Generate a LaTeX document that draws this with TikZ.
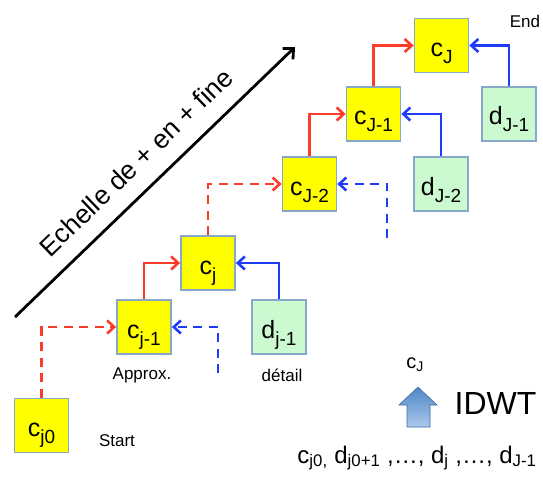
\documentclass[tikz,border=0pt]{standalone}
\usepackage{fontspec}
\setmainfont{Liberation Sans}
\usetikzlibrary{arrows.meta}
\definecolor{boxline}{RGB}{135,168,200}
\definecolor{cyell}{RGB}{255,255,0}
\definecolor{dgreen}{RGB}{204,250,208}
\definecolor{ared}{RGB}{250,60,40}
\definecolor{ablue}{RGB}{30,60,250}
\definecolor{idwtdark}{RGB}{80,135,200}
\definecolor{idwtlight}{RGB}{170,200,235}
\newcommand{\sbs}[1]{\raisebox{-0.28em}{\fontsize{19}{19}\selectfont #1}}
\tikzset{
  cbox/.style={draw=boxline, line width=1.8pt, fill=cyell, minimum width=54pt,
    minimum height=54pt, inner sep=0pt, text height=29pt, text depth=7pt,
    font=\fontsize{25}{27}\selectfont},
  dbox/.style={cbox, fill=dgreen},
  barb/.style={-{Straight Barb[length=7pt,width=13pt]}},
  uparr/.style={barb, ared, line width=2.6pt},
  sidearr/.style={barb, ablue, line width=2.6pt},
  jump/.style={dash pattern=on 9pt off 6.5pt},
  small/.style={font=\fontsize{17}{19}\selectfont}
}
\begin{document}
\begin{tikzpicture}[x=1pt,y=-1pt]
\useasboundingbox (0,0) rectangle (543,481);
% boxes
\node[cbox] (cj0) at (41.5,425.5) {c\sbs{j0}};
\node[cbox] (cjm1) at (144,327) {c\sbs{j-1}};
\node[cbox] (cj) at (208,263) {c\sbs{j}};
\node[dbox] (djm1) at (279,327) {d\sbs{j-1}};
\node[cbox] (cJm2) at (309.5,184) {c\sbs{J-2}};
\node[dbox] (dJm2) at (441,184) {d\sbs{J-2}};
\node[cbox] (cJm1) at (373.5,114) {c\sbs{J-1}};
\node[dbox] (dJm1) at (509,114) {d\sbs{J-1}};
\node[cbox] (cJ) at (441.5,45.5) {c\sbs{J}};
% free ends of the dashed blue lines
\coordinate (dlow) at (218,373);
\coordinate (dhigh) at (387,238);
% connectors
\draw[uparr] (cjm1.north) |- (cj.west);
\draw[uparr] (cJm2.north) |- (cJm1.west);
\draw[uparr] (cJm1.north) |- (cJ.west);
\draw[uparr,jump] (cj0.north) |- (cjm1.west);
\draw[uparr,jump] (cj.north) |- (cJm2.west);
\draw[sidearr] (djm1.north) |- (cj.east);
\draw[sidearr] (dJm2.north) |- (cJm1.east);
\draw[sidearr] (dJm1.north) |- (cJ.east);
\draw[sidearr,jump] (dlow) |- (cjm1.east);
\draw[sidearr,jump] (dhigh) |- (cJm2.east);
% labels
\node[small] (start) at (117,441) {Start};
\node[small] (approx) at (142,375) {Approx.};
\node[small] (detail) at (282,375) {détail};
\node[small] (end) at (525,21) {End};
% scale arrow
\coordinate (sa) at (15,317);
\coordinate (sb) at (295,47);
\draw[-{Straight Barb[length=8pt,width=15pt]}, line width=2.8pt] (sa) -- (sb)
  node[midway, sloped, above=13pt, font=\fontsize{26.5}{29}\selectfont] (scale) {Echelle de + en + fine};
% IDWT
\node[font=\fontsize{20}{22}\selectfont] (cout) at (415,365) {c\textsubscript{J}};
\shade[top color=idwtdark, bottom color=idwtlight, draw=idwtdark!80!black, line width=0.6pt]
  (418,387) -- (437,405) -- (430,405) -- (430,427) -- (407,427) -- (407,405) -- (399,405) -- cycle;
\node[font=\fontsize{32}{34}\selectfont] (idwt) at (495.5,403.5) {IDWT};
\node[font=\fontsize{24}{26}\selectfont] (seq) at (417,458)
  {c\textsubscript{j0,} d\textsubscript{j0+1} ,\ldots, d\textsubscript{j} ,\ldots, d\textsubscript{J-1}};
\end{tikzpicture}
\end{document}
